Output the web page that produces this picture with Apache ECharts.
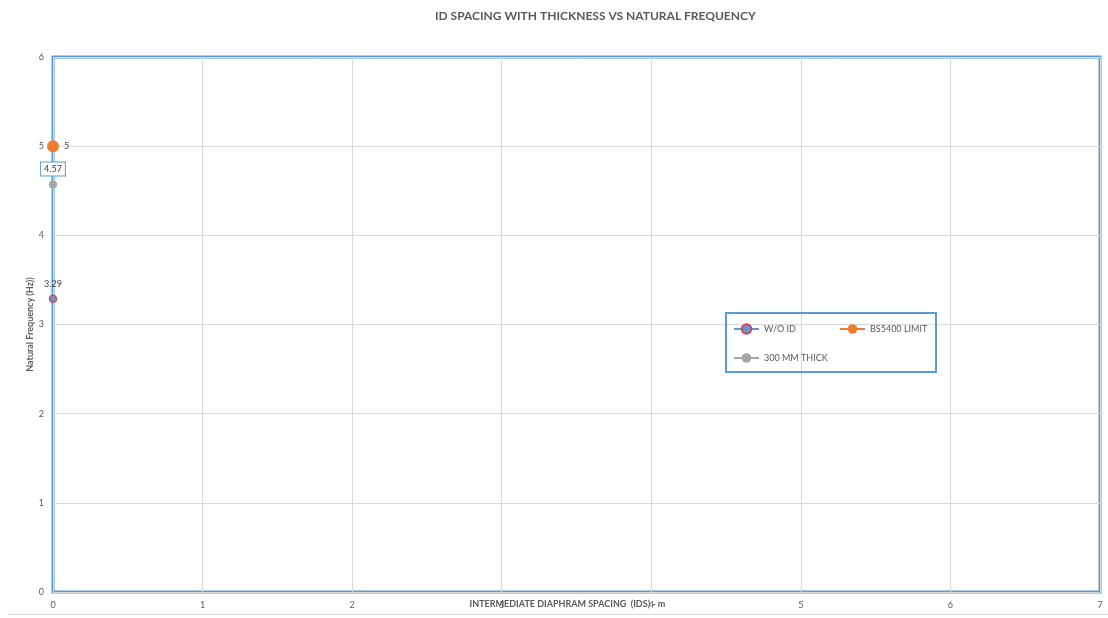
<!DOCTYPE html>
<html>
<head>
<meta charset="utf-8">
<script src="https://cdn.jsdelivr.net/npm/echarts@6/dist/echarts.min.js"></script>
<style>html,body{margin:0;padding:0;background:#fff}#c{width:1108px;height:618px}</style>
</head>
<body>
<div id="c"></div>
<script>
const titleText = 'ID SPACING WITH THICKNESS VS NATURAL FREQUENCY';
const xName = 'INTERMEDIATE DIAPHRAM SPACING  (IDS) - m';
const yName = 'Natural Frequency (Hz))';
const seriesNames = ['W/O ID', 'BS5400 LIMIT', '300 MM THICK'];
const woIdData = [[0, 3.29]];
const bs5400Data = [[0, 5]];
const thick300Data = [[0, 4.57]];
const xMin = 0, xMax = 7, yMin = 0, yMax = 6;

const font = 'Lato, "Open Sans", sans-serif';
const chart = echarts.init(document.getElementById('c'));
chart.setOption({
  animation: false,
  textStyle: { fontFamily: font },
  title: {
    text: titleText, left: 430, top: 5,
    textStyle: { fontSize: 12, fontWeight: 'bold', color: '#595959', fontFamily: font }
  },
  grid: [
    { left: 53, right: 8, top: 57, bottom: 26, show: true, borderColor: '#5B9BD5', borderWidth: 3, backgroundColor: 'transparent', containLabel: false, outerBoundsMode: 'none' },
    { left: 8, right: 0, bottom: 4, height: 0, containLabel: false, outerBoundsMode: 'none' }
  ],
  legend: {
    left: 726, top: 313, orient: 'horizontal', width: 260,
    padding: [4, 6, 2, 7],
    borderColor: '#5B9BD5', borderWidth: 2,
    itemWidth: 25, itemHeight: 12, itemGap: 5,
    textStyle: { fontSize: 9, color: '#595959', lineHeight: 24, fontFamily: font },
    data: [
      { name: seriesNames[0], textStyle: { width: 70 } },
      { name: seriesNames[1], textStyle: { width: 60 } },
      { name: seriesNames[2], textStyle: { width: 90 } }
    ]
  },
  xAxis: [{
    type: 'value', gridIndex: 0, min: xMin, max: xMax, interval: 1,
    name: xName, nameLocation: 'middle', nameGap: 8, nameMoveOverlap: false,
    nameTextStyle: { fontSize: 9, fontWeight: 'bold', color: '#595959', padding: [0, 18, 0, 0], fontFamily: font },
    axisLine: { show: false }, axisTick: { show: false },
    axisLabel: { fontSize: 9, color: '#595959', margin: 9, fontFamily: font },
    splitLine: { lineStyle: { color: '#D9D9D9', width: 1 } }
  }, {
    type: 'value', gridIndex: 1, min: 0, max: 1,
    axisLine: { show: true, lineStyle: { color: '#D9D9D9', width: 1 } },
    axisTick: { show: false }, axisLabel: { show: false }, splitLine: { show: false }
  }],
  yAxis: [{
    type: 'value', gridIndex: 0, min: yMin, max: yMax, interval: 1,
    name: yName, nameLocation: 'middle', nameGap: 18, nameMoveOverlap: false,
    nameTextStyle: { fontSize: 9, fontWeight: 'bold', color: '#595959', fontFamily: font },
    axisLine: { show: false }, axisTick: { show: false },
    axisLabel: { fontSize: 9, color: '#595959', margin: 9, fontFamily: font },
    splitLine: { lineStyle: { color: '#D9D9D9', width: 1 } }
  }, {
    type: 'value', gridIndex: 1, show: false
  }],
  series: [
    {
      name: seriesNames[0], type: 'line', data: woIdData, xAxisIndex: 0, yAxisIndex: 0,
      symbol: 'circle', symbolSize: 7,
      lineStyle: { color: '#5B9BD5', width: 4 },
      itemStyle: { color: '#5B9BD5', borderColor: '#E0405A', borderWidth: 1.5 },
      label: { show: true, position: 'top', distance: 6, fontSize: 9, color: '#404040', fontFamily: font },
      z: 3
    },
    {
      name: seriesNames[1], type: 'line', data: bs5400Data, xAxisIndex: 0, yAxisIndex: 0,
      symbol: 'circle', symbolSize: 12,
      lineStyle: { color: '#ED7D31', width: 4 },
      itemStyle: { color: '#ED7D31' },
      label: { show: true, position: 'right', distance: 5, fontSize: 9, color: '#404040', fontFamily: font },
      z: 4
    },
    {
      name: seriesNames[2], type: 'line', data: thick300Data, xAxisIndex: 0, yAxisIndex: 0,
      symbol: 'circle', symbolSize: 8,
      lineStyle: { color: '#A5A5A5', width: 1 },
      itemStyle: { color: '#A5A5A5' },
      label: {
        show: true, position: 'top', distance: 5, fontSize: 9, color: '#404040', fontFamily: font,
        borderColor: '#5B9BD5', borderWidth: 1, padding: [2, 3, 2, 3], backgroundColor: '#fff'
      },
      z: 3
    }
  ]
});
</script>
</body>
</html>
